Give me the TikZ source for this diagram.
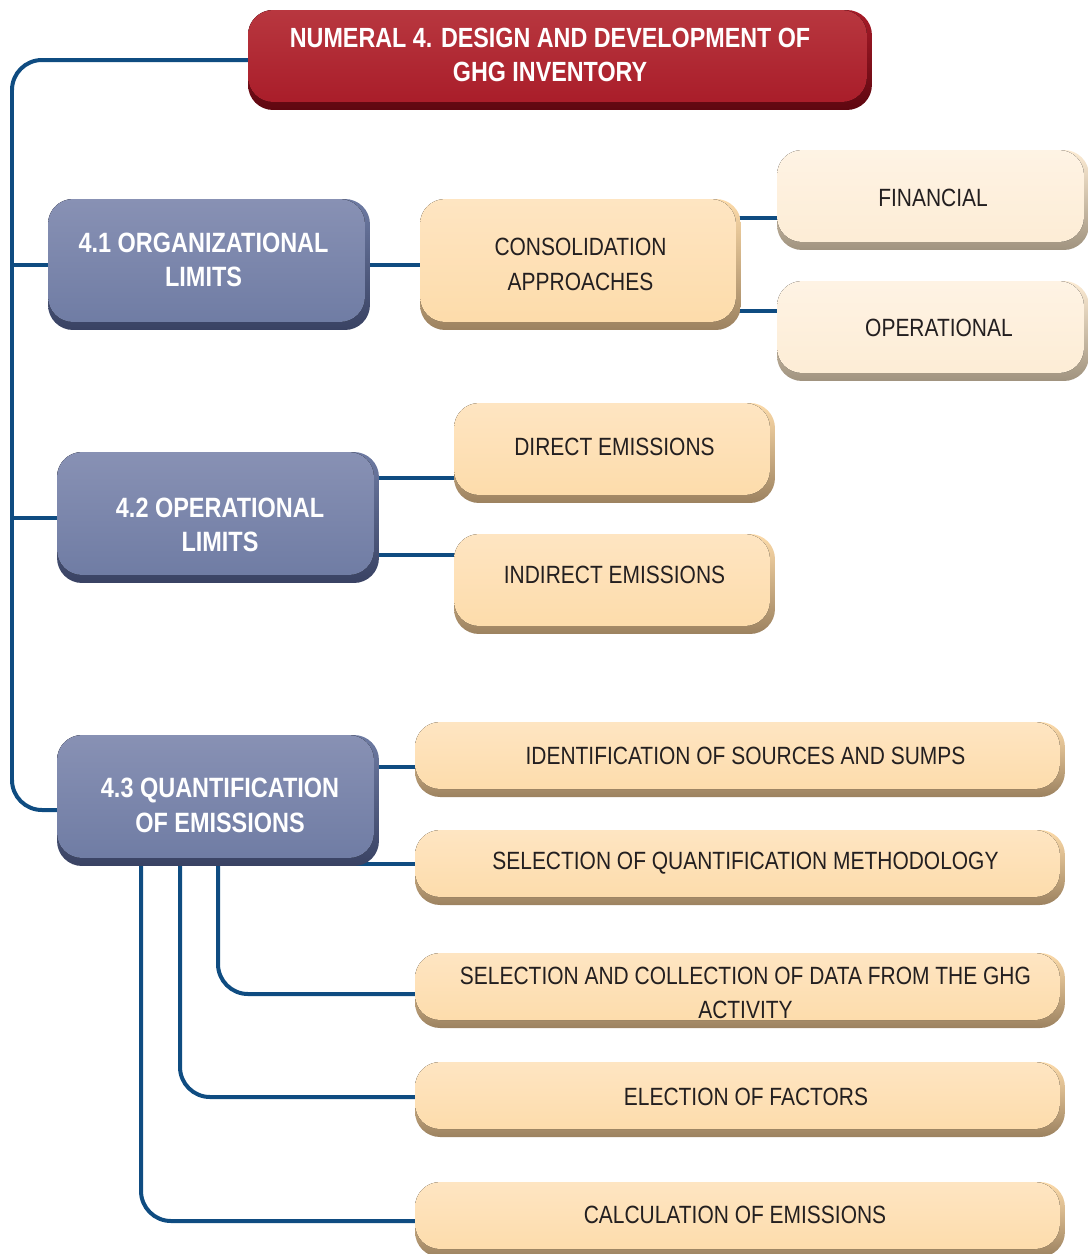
\documentclass[tikz,border=0pt]{standalone}
\usepackage{fontspec}
\setmainfont{Liberation Sans}[FakeStretch=0.84]
\usetikzlibrary{shadows}

\definecolor{redbase}{HTML}{A81B28}
\definecolor{redtop}{HTML}{B8373F}
\definecolor{reddark}{HTML}{5E0710}
\definecolor{bluebase}{HTML}{6E7BA3}
\definecolor{bluetop}{HTML}{8891B4}
\definecolor{bluedark}{HTML}{394263}
\definecolor{peachbase}{HTML}{FDDBA9}
\definecolor{peachtop}{HTML}{FEE5C2}
\definecolor{peachdark}{HTML}{9C8260}
\definecolor{creambase}{HTML}{FDECD4}
\definecolor{creamtop}{HTML}{FEF3E4}
\definecolor{creamdark}{HTML}{A0937F}
\definecolor{linkblue}{HTML}{0F4C81}
\definecolor{textdark}{HTML}{231F20}

\pgfdeclarelayer{background}
\pgfsetlayers{background,main}

% text nudges: depth lifts the text, height lowers it
\newcommand{\txtup}[1]{\rule[-#1]{0pt}{0pt}}
\newcommand{\txtdown}[1]{\rule{0pt}{\dimexpr0.72em+#1\relax}}

\tikzset{
    box/.style={rounded corners=0.5cm, align=center, inner sep=0pt},
    bevel/.style n args={3}{top color=#1, bottom color=#3,
        path picture={\fill[rounded corners=0.5cm, top color=#2, middle color=#1, bottom color=#1]
            (path picture bounding box.north west) rectangle ([xshift=-0.1cm, yshift=0.16cm]path picture bounding box.south east);}},
    bigbox/.style={box, minimum width=6.44cm, minimum height=2.62cm},
    smallbox/.style={box, minimum width=6.42cm, minimum height=2cm},
    widebox/.style={box, minimum width=13cm, minimum height=1.5cm},
    titlebox/.style={box, minimum width=12.48cm, minimum height=2cm,
        bevel={redbase}{redtop}{reddark},
        text=white, font=\fontsize{15.8}{19.5}\selectfont\bfseries},
    bluebox/.style={bigbox, bevel={bluebase}{bluetop}{bluedark},
        text=white, font=\fontsize{15.9}{19.5}\selectfont\bfseries},
    peachbox/.style={bevel={peachbase}{peachtop}{peachdark},
        text=textdark, font=\fontsize{14.2}{19.5}\selectfont},
    creambox/.style={smallbox, minimum width=6.24cm, bevel={creambase}{creamtop}{creamdark},
        text=textdark, font=\fontsize{14.2}{19.5}\selectfont},
    link/.style={draw=linkblue, line width=0.08cm},
}

\begin{document}
\begin{tikzpicture}[x=0.02cm, y=-0.02cm]
    \useasboundingbox (0,0) rectangle (1088,1254);
    \clip (0,0) rectangle (1088,1254);

    % main title
    \node (title) [titlebox] at (560,60) {NUMERAL 4. DESIGN AND DEVELOPMENT OF\hspace*{11.3pt}\\GHG INVENTORY\hspace*{11.3pt}\txtup{5.7pt}};

    % 4.1
    \node (org) [bluebox] at (209,264.5) {4.1 ORGANIZATIONAL\hspace*{6.2pt}\\LIMITS\hspace*{6.2pt}\txtup{5.7pt}};
    \node (cons) [bigbox, peachbox, minimum width=6.42cm] at (580.5,264.5) {CONSOLIDATION\\APPROACHES};
    \node (fin) [creambox] at (933,200) {FINANCIAL\txtup{2.3pt}};
    \node (opr) [creambox] at (933,331) {\hspace*{6.8pt}OPERATIONAL\txtup{3.4pt}};

    % 4.2
    \node (oplim) [bluebox] at (218,517.5) {\txtdown{7.9pt}\hspace*{2.3pt}4.2 OPERATIONAL\\\hspace*{2.3pt}LIMITS};
    \node (direct) [smallbox, peachbox] at (614.5,453) {DIRECT EMISSIONS\txtup{6.8pt}};
    \node (indirect) [smallbox, peachbox] at (614.5,584) {INDIRECT EMISSIONS\txtup{10.2pt}};

    % 4.3
    \node (quant) [bluebox] at (218,800.5) {\txtdown{5.1pt}\hspace*{2.3pt}4.3 QUANTIFICATION\\\hspace*{2.3pt}OF EMISSIONS};
    \node (ident) [widebox, peachbox] at (740,759.5) {\hspace*{6.2pt}IDENTIFICATION OF SOURCES AND SUMPS\txtup{4pt}};
    \node (method) [widebox, peachbox] at (740,867.5) {\hspace*{6.2pt}SELECTION OF QUANTIFICATION METHODOLOGY\txtup{7.4pt}};
    \node (data) [widebox, peachbox] at (740,990.5) {\txtdown{2.8pt}\hspace*{6.2pt}SELECTION AND COLLECTION OF DATA FROM THE GHG\\\hspace*{6.2pt}ACTIVITY};
    \node (factors) [widebox, peachbox] at (740,1099.5) {\hspace*{6.8pt}ELECTION OF FACTORS\txtup{2.8pt}};
    \node (calc) [widebox, peachbox] at (740,1219.5) {CALCULATION OF EMISSIONS\hspace*{5.7pt}\txtup{5.1pt}};

    \coordinate (trunk) at (12,500);

    % connectors, behind the boxes
    \begin{pgfonlayer}{background}
        \draw[link, rounded corners=0.6cm] (title.center) -| (trunk) |- ([yshift=-0.19cm]quant.center);
        \draw[link] (trunk |- org.center) -- (org.center);
        \draw[link] (trunk |- oplim.center) -- (oplim.center);

        \draw[link] (org.center) -- (cons.center);
        \draw[link] ([yshift=0.93cm]cons.center) -- ([yshift=0.93cm]cons.center -| fin.center);
        \draw[link] ([yshift=-0.93cm]cons.center) -- ([yshift=-0.93cm]cons.center -| opr.center);

        \draw[link] ([yshift=0.79cm]oplim.center) -- ([yshift=0.79cm]oplim.center -| direct.center);
        \draw[link] ([yshift=-0.75cm]oplim.center) -- ([yshift=-0.75cm]oplim.center -| indirect.center);

        \draw[link] ([yshift=0.67cm]quant.center) -- ([yshift=0.67cm]quant.center -| ident.center);
        \draw[link] ([yshift=-1.27cm]quant.center) -- ([yshift=-1.27cm]quant.center -| method.center);
        \draw[link, rounded corners=0.6cm] (quant.center) |- ([yshift=-0.07cm]data.center);
        \draw[link, rounded corners=0.6cm] ([xshift=-0.76cm]quant.center) |- ([yshift=0.05cm]factors.center);
        \draw[link, rounded corners=0.6cm] ([xshift=-1.54cm]quant.center) |- ([yshift=-0.03cm]calc.center);
    \end{pgfonlayer}
\end{tikzpicture}
\end{document}
